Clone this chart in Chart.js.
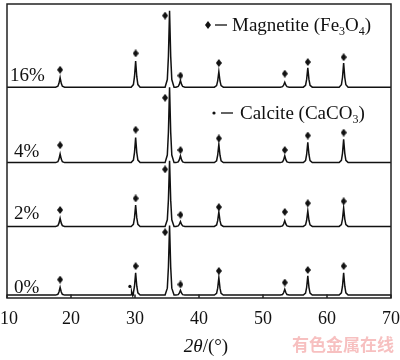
<!DOCTYPE html>
<html><head><meta charset="utf-8">
<script src="https://cdn.jsdelivr.net/npm/chart.js@4"></script>
<style>html,body{margin:0;padding:0;background:#fff}#wrap{width:400px;height:360px}</style>
</head><body><div id="wrap"><canvas id="c" width="400" height="360"></canvas></div>
<script>
// ---- data ----
const xTicks = [10, 20, 30, 40, 50, 60, 70];
const sampleLabels = ['0%', '2%', '4%', '16%'];
const baselines = [3, 74, 140, 218];               // vertical stacking offsets (intensity units)
const magnetitePeaks = [18.3, 30.1, 35.4, 37.1, 43.1, 53.4, 57.0, 62.6];
const heights0  = [8, 23, 72, 5, 18, 6, 20, 23];
const heights2  = [8.5, 22, 68, 5, 15, 6, 16, 19];
const heights4  = [9, 26, 78, 7, 19, 7, 21, 24];
const heights16 = [10, 27, 79, 7, 16, 5, 20, 25];
const calcitePeak = 29.5;
const calciteHeight0 = 3.5;
const markerX   = [18.3, 30.1, 34.7, 37.1, 43.1, 53.4, 57.0, 62.6];
const marker0   = [16, 30, 65, 11, 25, 13, 26, 30];
const marker2   = [17, 29, 59, 12, 20, 15, 24, 26];
const marker4   = [18, 34, 67, 13, 25, 13, 28, 31];
const marker16  = [18, 35, 74, 12, 25, 14, 26, 31];
const calciteMarkerX = 29.2;
const calciteMarker0 = 9;

// peak profile template (shape only)
const profDx = [-0.7, -0.35, -0.18, 0, 0.18, 0.35, 0.7];
const profFr = [0, 0.1, 0.4, 1, 0.4, 0.1, 0];

function buildTrace(base, peaks, heights, extra) {
  const list = peaks.map((p, i) => ({p, h: heights[i], w: 1}));
  if (extra) list.push(extra);
  list.sort((a, b) => a.p - b.p);
  const pts = [{x: 10, y: base}];
  list.forEach(pk => {
    profDx.forEach((d, j) => {
      const x = pk.p + d * pk.w;
      if (x > pts[pts.length - 1].x) pts.push({x, y: base + pk.h * profFr[j]});
    });
  });
  pts.push({x: 70, y: base});
  return pts;
}
function buildMarkers(base, xs, ys) { return xs.map((x, i) => ({x, y: base + ys[i]})); }

const allHeights = [heights0, heights2, heights4, heights16];
const allMarkers = [marker0, marker2, marker4, marker16];

// diamond marker image
const dia = document.createElement('canvas');
dia.width = 6; dia.height = 8;
(function(){const g = dia.getContext('2d'); g.fillStyle = '#111'; g.beginPath();
  g.moveTo(3, 0); g.lineTo(6, 4); g.lineTo(3, 8); g.lineTo(0, 4); g.closePath(); g.fill();})();

const datasets = [];
for (let s = 0; s < 4; s++) {
  const extra = s === 0 ? {p: calcitePeak, h: calciteHeight0, w: 0.3} : null;
  datasets.push({
    type: 'line', data: buildTrace(baselines[s], magnetitePeaks, allHeights[s], extra),
    borderColor: '#111', borderWidth: 1.5, pointRadius: 0, tension: 0, fill: false, order: 2
  });
  datasets.push({
    type: 'scatter', data: buildMarkers(baselines[s], markerX, allMarkers[s]),
    pointStyle: dia, pointRadius: 4, backgroundColor: '#111', borderWidth: 0, order: 1
  });
}
datasets.push({
  type: 'scatter', data: [{x: calciteMarkerX, y: baselines[0] + calciteMarker0}],
  pointStyle: 'circle', pointRadius: 1.6, backgroundColor: '#111', borderWidth: 0, order: 1
});

const serif = '"Liberation Serif", "Times New Roman", serif';

const decor = {
  id: 'decor',
  afterDraw(chart) {
    const ctx = chart.ctx, a = chart.chartArea, xs = chart.scales.x;
    ctx.save();
    // frame
    ctx.strokeStyle = '#222'; ctx.lineWidth = 1.5;
    ctx.strokeRect(a.left, a.top, a.right - a.left, a.bottom - a.top);
    // inward ticks + labels
    ctx.fillStyle = '#111'; ctx.font = '18px ' + serif;
    ctx.textAlign = 'center'; ctx.textBaseline = 'alphabetic';
    xTicks.forEach(t => {
      const px = xs.getPixelForValue(t);
      ctx.beginPath(); ctx.moveTo(px, a.bottom); ctx.lineTo(px, a.bottom - 3.5); ctx.stroke();
      ctx.fillText(String(t), Math.max(px, 9), 324);
    });
    // axis title 2θ/(°)
    ctx.font = 'italic 19px ' + serif;
    const p1 = '2\u03b8';
    const w1 = ctx.measureText(p1).width;
    ctx.font = '19px ' + serif;
    const p2 = '/(\u00b0)';
    const w2 = ctx.measureText(p2).width;
    let x0 = 206 - (w1 + w2) / 2;
    ctx.textAlign = 'left';
    ctx.font = 'italic 19px ' + serif; ctx.fillText(p1, x0, 352);
    ctx.font = '19px ' + serif; ctx.fillText(p2, x0 + w1, 352);
    // sample labels
    ctx.font = '19px ' + serif; ctx.textBaseline = 'middle';
    const lab = [[14, 288], [14, 214], [14, 152], [10, 76]];
    sampleLabels.forEach((t, i) => ctx.fillText(t, lab[i][0], lab[i][1]));
    // legend
    ctx.textBaseline = 'alphabetic';
    function chem(parts, x, y) {
      parts.forEach(([txt, sub]) => {
        ctx.font = (sub ? '12px ' : '19px ') + serif;
        ctx.fillText(txt, x, y + (sub ? 4 : 0));
        x += ctx.measureText(txt).width;
      });
    }
    // magnetite
    ctx.drawImage(dia, 205, 21);
    ctx.lineWidth = 1.4;
    ctx.beginPath(); ctx.moveTo(215, 25); ctx.lineTo(227, 25); ctx.stroke();
    chem([['Magnetite (Fe', 0], ['3', 1], ['O', 0], ['4', 1], [')', 0]], 232, 31);
    // calcite
    ctx.beginPath(); ctx.arc(214, 113, 1.6, 0, Math.PI * 2); ctx.fill();
    ctx.beginPath(); ctx.moveTo(221, 113); ctx.lineTo(233, 113); ctx.stroke();
    chem([['Calcite (CaCO', 0], ['3', 1], [')', 0]], 240, 119);
    // watermark
    ctx.font = 'bold 17px "Noto Sans CJK SC", sans-serif';
    ctx.fillStyle = 'rgba(240,130,130,0.5)';
    ctx.textBaseline = 'middle';
    ctx.fillText('有色金属在线', 292, 345);
    ctx.restore();
  }
};

new Chart(document.getElementById('c'), {
  data: {datasets},
  options: {
    responsive: false, animation: false, devicePixelRatio: 1,
    layout: {padding: {left: 7, right: 9, top: 2, bottom: 54}},
    plugins: {legend: {display: false}, tooltip: {enabled: false}},
    scales: {
      x: {type: 'linear', min: 10, max: 70, grid: {display: false}, border: {display: false}, ticks: {display: false}},
      y: {type: 'linear', min: 0, max: 304, display: false}
    }
  },
  plugins: [decor]
});
</script></body></html>
